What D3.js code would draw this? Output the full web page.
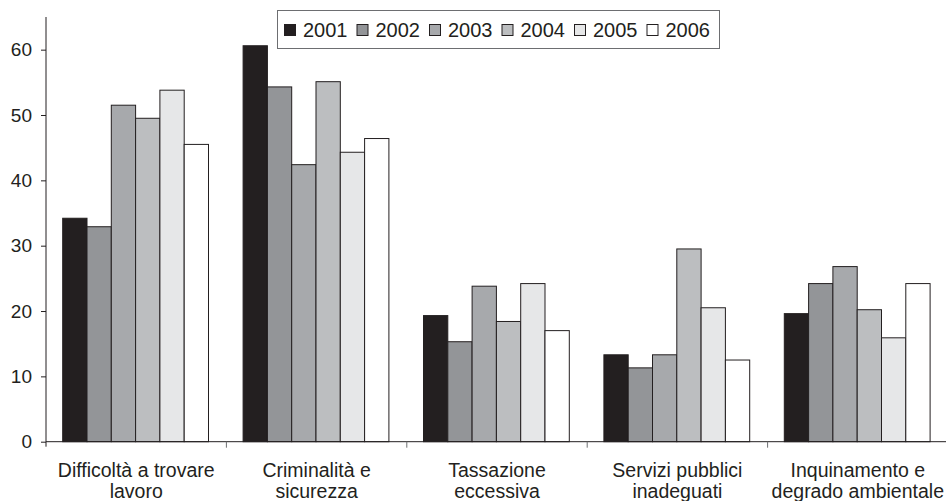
<!DOCTYPE html>
<html>
<head>
<meta charset="utf-8">
<script src="https://cdn.jsdelivr.net/npm/d3@7"></script>
<style>
  html, body { margin: 0; padding: 0; background: #fff; }
  svg { display: block; }
  text { fill: #231f20; }
</style>
</head>
<body>
<svg id="chart" width="946" height="501"></svg>
<script>
// Categories (two-line labels) and yearly series, percent values
const categories = ["Difficoltà a trovare lavoro", "Criminalità e sicurezza", "Tassazione eccessiva", "Servizi pubblici inadeguati", "Inquinamento e degrado ambientale"];
const categoryLines = [
  ["Difficoltà a trovare", "lavoro"],
  ["Criminalità e", "sicurezza"],
  ["Tassazione", "eccessiva"],
  ["Servizi pubblici", "inadeguati"],
  ["Inquinamento e", "degrado ambientale"]
];
const years = ["2001", "2002", "2003", "2004", "2005", "2006"];
const values2001 = [34.2, 60.6, 19.3, 13.3, 19.6];
const values2002 = [32.9, 54.3, 15.3, 11.3, 24.2];
const values2003 = [51.5, 42.4, 23.8, 13.3, 26.8];
const values2004 = [49.5, 55.1, 18.4, 29.5, 20.2];
const values2005 = [53.8, 44.3, 24.2, 20.5, 15.9];
const values2006 = [45.5, 46.4, 17.0, 12.5, 24.2];
const yTicks = [0, 10, 20, 30, 40, 50, 60];
const fills = ["#231f20", "#939598", "#a7a9ac", "#bcbec0", "#e6e7e8", "#ffffff"];

const series = [values2001, values2002, values2003, values2004, values2005, values2006];

const svg = d3.select("#chart");
const ink = "#231f20";
const font = "'Liberation Sans', Arial, Helvetica, sans-serif";

const plot = { left: 46, right: 948, top: 17, bottom: 441.7 };

const y = d3.scaleLinear().domain([0, 65]).range([plot.bottom, plot.top]);
const x0 = d3.scaleBand().domain(categories).range([plot.left, plot.right]).padding(0);
const x1 = d3.scaleBand().domain(years).range([16.7, 162.5]).padding(0);

// Bars
const groups = svg.append("g").selectAll("g")
  .data(categories)
  .join("g")
  .attr("transform", d => `translate(${x0(d)},0)`);

groups.selectAll("rect")
  .data((c, ci) => years.map((yr, si) => ({ yr, si, v: series[si][ci] })))
  .join("rect")
  .attr("x", d => x1(d.yr))
  .attr("y", d => y(d.v))
  .attr("width", x1.bandwidth())
  .attr("height", d => y(0) - y(d.v))
  .attr("fill", d => fills[d.si])
  .attr("stroke", ink)
  .attr("stroke-width", 1);

// Y axis
const yAxis = d3.axisLeft(y).tickValues(yTicks).tickSize(5).tickPadding(9);
const gy = svg.append("g").attr("transform", `translate(${plot.left},0)`).call(yAxis);
gy.select(".domain").attr("stroke", ink).attr("d", `M0,${plot.top}V${plot.bottom + 5}`);
gy.selectAll(".tick line").attr("stroke", ink);
gy.selectAll(".tick text")
  .attr("font-family", font)
  .attr("font-size", 19)
  .attr("fill", ink);

// X axis baseline with category boundary ticks
const gx = svg.append("g");
gx.append("line")
  .attr("x1", plot.left).attr("x2", 946)
  .attr("y1", y(0)).attr("y2", y(0))
  .attr("stroke", ink);
gx.selectAll(".sep")
  .data(categories.slice(1))
  .join("line")
  .attr("class", "sep")
  .attr("x1", d => x0(d)).attr("x2", d => x0(d))
  .attr("y1", y(0)).attr("y2", y(0) + 6)
  .attr("stroke", "#6d6e71");

// Category labels
const labels = gx.selectAll(".cat")
  .data(categories)
  .join("text")
  .attr("class", "cat")
  .attr("text-anchor", "middle")
  .attr("font-family", font)
  .attr("font-size", 19.5)
  .attr("x", d => x0(d) + x0.bandwidth() / 2)
  .attr("y", 477);
labels.selectAll("tspan")
  .data((d, i) => categoryLines[i])
  .join("tspan")
  .attr("x", function() { return this.parentNode.getAttribute("x"); })
  .attr("dy", (d, i) => i === 0 ? 0 : 21)
  .text(d => d);

// Legend
const legend = svg.append("g");
legend.append("rect")
  .attr("x", 277.5).attr("y", 10.5)
  .attr("width", 442).attr("height", 38)
  .attr("fill", "#fff")
  .attr("stroke", "#6d6e71");
const items = legend.selectAll(".item")
  .data(years)
  .join("g")
  .attr("class", "item")
  .attr("transform", (d, i) => `translate(${284 + i * 72.5},0)`);
items.append("rect")
  .attr("x", 0.5).attr("y", 24.5)
  .attr("width", 11).attr("height", 11)
  .attr("fill", (d, i) => fills[i])
  .attr("stroke", ink);
items.append("text")
  .attr("x", 19).attr("y", 36.5)
  .attr("font-family", font)
  .attr("font-size", 20)
  .text(d => d);
</script>
</body>
</html>
